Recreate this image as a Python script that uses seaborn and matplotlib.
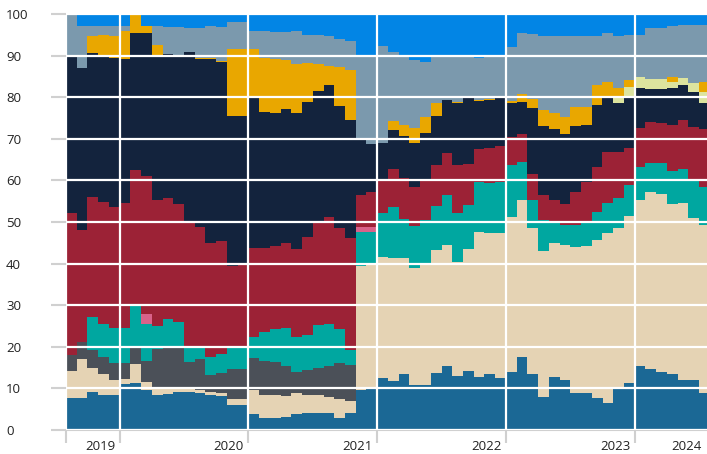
import numpy as np
import pandas as pd
import matplotlib
matplotlib.use("Agg")
import matplotlib.pyplot as plt
import seaborn as sns

# ---------------- data (monthly shares, %) ----------------
months = pd.period_range("2019-08", periods=60, freq="M").astype(str)

steel = [7.6, 7.8, 9.1, 8.5, 8.5, 11.0, 11.4, 9.7, 8.5, 8.7, 9.1, 9.1, 8.8, 8.4, 8.2, 6.0, 6.0, 3.8, 3.0, 2.9,
         3.2, 3.8, 4.0, 4.2, 4.2, 3.0, 4.0, 9.6, 9.8, 12.4, 11.7, 13.5, 10.9, 10.9, 13.8, 15.4, 13.0, 14.1, 12.8, 13.5,
         12.4, 14.0, 17.6, 13.5, 8.0, 12.7, 12.1, 9.0, 8.8, 7.6, 6.4, 10.0, 11.2, 15.4, 14.6, 14.0, 13.5, 11.9, 11.9, 8.8]
beige = [6.7, 9.3, 5.9, 5.0, 3.5, 1.2, 4.5, 1.9, 1.5, 1.3, 1.2, 1.0, 0.8, 0.8, 0.8, 1.4, 1.4, 5.8, 5.4, 5.4,
         5.0, 5.2, 4.4, 4.2, 3.8, 4.4, 3.0, 29.9, 29.9, 29.3, 29.6, 27.8, 28.0, 29.3, 29.5, 29.1, 27.5, 29.3, 34.8, 33.8,
         35.0, 37.1, 37.7, 35.0, 35.1, 32.3, 32.4, 34.9, 35.4, 38.1, 40.9, 38.5, 40.2, 40.0, 42.5, 42.7, 40.8, 42.7, 39.0, 40.5]
slate = [3.7, 4.1, 4.2, 4.0, 4.1, 3.8, 3.7, 4.9, 9.4, 9.9, 9.6, 6.3, 7.4, 4.0, 4.6, 7.2, 7.2, 7.6, 8.3, 8.1,
         7.2, 5.0, 6.0, 6.4, 7.4, 8.6, 8.7, 0, 0, 0, 0, 0, 0, 0, 0, 0, 0, 0, 0, 0,
         0, 0, 0, 0, 0, 0, 0, 0, 0, 0, 0, 0, 0, 0, 0, 0, 0, 0, 0, 0]
teal = [0, 0, 7.9, 8.1, 8.4, 8.6, 10.1, 9.0, 5.7, 6.7, 6.1, 3.4, 3.2, 4.3, 4.6, 5.2, 5.2, 5.2, 6.9, 7.8,
        9.0, 8.3, 8.4, 10.4, 10.2, 8.2, 3.6, 8.2, 8.0, 10.4, 12.3, 9.5, 10.1, 10.3, 10.5, 12.1, 11.7, 10.7, 12.0, 12.0,
        12.3, 12.6, 9.2, 6.9, 7.4, 4.7, 4.8, 5.4, 5.6, 6.8, 7.2, 7.2, 7.5, 7.9, 7.2, 7.4, 8.0, 8.1, 9.2, 9.2]
pink = [0, 0, 0, 0, 0, 0, 0, 2.3, 0, 0, 0, 0, 0, 0, 0, 0, 0, 0, 0, 0,
        0, 0, 0, 0, 0, 0, 0, 1.1, 1.2, 0, 0, 0, 0, 0, 0, 0, 0, 0, 0, 0,
        0, 0, 0, 0, 0, 0, 0, 0, 0, 0, 0, 0, 0, 0, 0, 0, 0, 0, 0, 0]
crimson = [34.1, 26.9, 29.0, 29.3, 29.2, 30.0, 32.8, 33.3, 30.2, 29.1, 28.3, 29.9, 28.5, 27.5, 27.2, 19.7, 19.9, 21.3, 20.1, 20.1,
           20.5, 21.1, 23.7, 24.5, 25.7, 24.3, 26.8, 7.6, 8.4, 7.7, 9.1, 9.7, 9.5, 9.5, 9.9, 10.1, 11.5, 9.8, 7.9, 8.6,
           8.6, 6.7, 6.7, 6.1, 6.0, 5.7, 5.0, 8.0, 9.7, 10.8, 12.4, 11.2, 9.0, 9.2, 9.8, 9.6, 11.0, 11.8, 12.7, 13.8]
navy = [38.1, 38.8, 34.5, 34.7, 35.7, 34.7, 32.9, 34.3, 34.3, 34.6, 35.8, 41.2, 40.6, 44.3, 43.1, 36.1, 35.9, 36.1, 32.8, 31.9,
        32.3, 32.9, 32.4, 31.9, 31.6, 29.3, 28.3, 13.8, 11.4, 9.3, 9.4, 10.2, 10.6, 11.5, 11.8, 12.7, 14.8, 16.0, 11.7, 11.4,
        11.4, 8.3, 7.7, 15.8, 16.6, 16.9, 16.9, 15.8, 13.7, 14.8, 13.1, 11.8, 12.1, 9.6, 7.8, 8.2, 8.8, 8.4, 8.5, 6.4]
lime = [0, 0, 0, 0, 0, 0, 0, 0, 0, 0, 0, 0, 0, 0, 0, 0, 0, 0, 0, 0,
        0, 0, 0, 0, 0, 0, 0, 0, 0, 0, 0, 0, 0, 0, 0, 0, 0, 0, 0, 0,
        0, 0, 0, 0, 0, 0, 0, 0, 0, 0, 0, 1.3, 2.5, 2.8, 2.4, 2.4, 1.6, 1.8, 2.0, 2.6]
gold = [0, 0.2, 4.2, 5.4, 5.4, 6.7, 4.6, 1.6, 2.9, 0, 0, 0, 0.2, 0.2, 0.3, 15.9, 15.9, 11.7, 13.0, 13.0,
        11.7, 11.8, 9.3, 6.5, 4.7, 9.5, 12.1, 0, 0, 0, 2.1, 2.6, 3.4, 3.7, 3.1, 0, 0.3, 0.2, 0.2, 0.2,
        0.2, 0.3, 1.9, 2.2, 3.8, 3.8, 4.0, 4.5, 4.4, 4.8, 3.7, 2.1, 1.6, 0, 0, 0, 1.2, 0, 0, 2.4]
greyblue = [9.8, 9.9, 2.3, 2.1, 2.2, 1.1, 0, 0, 4.6, 6.6, 6.7, 5.7, 7.1, 7.5, 8.0, 6.5, 6.5, 4.3, 6.5, 6.5,
            6.8, 7.9, 6.7, 6.9, 7.2, 6.7, 7.1, 19.5, 21.3, 23.2, 16.7, 16.4, 16.4, 13.3, 11.4, 10.6, 11.2, 9.6, 10.0, 10.1,
            9.8, 13.1, 14.6, 15.6, 17.8, 18.6, 19.4, 17.1, 17.0, 11.8, 11.7, 12.6, 10.8, 10.0, 12.3, 12.3, 12.1, 12.7, 14.1, 13.7]
azure = [0, 3.0, 2.9, 2.9, 3.0, 2.9, 0, 3.0, 2.9, 3.1, 3.2, 3.4, 3.4, 3.0, 3.2, 2.0, 2.0, 4.2, 4.0, 4.3,
         4.3, 4.0, 5.1, 5.0, 5.2, 6.0, 6.4, 10.3, 10.0, 7.7, 9.1, 10.3, 11.1, 11.5, 10.0, 10.0, 10.0, 10.3, 10.6, 10.4,
         10.3, 7.9, 4.6, 4.9, 5.3, 5.3, 5.4, 5.3, 5.4, 5.3, 4.6, 5.3, 5.1, 5.1, 3.4, 3.4, 3.0, 2.6, 2.6, 2.6]

year_labels = ["2019", "2020", "2021", "2022", "2023", "2024"]

# ---------------- styling ----------------
order = ["steel", "beige", "slate", "teal", "pink", "crimson", "navy", "lime", "gold", "greyblue", "azure"]
colors = {
    "steel": "#1b6895", "beige": "#e5d3b4", "slate": "#4b5058", "teal": "#00a7a0",
    "pink": "#d9628a", "crimson": "#9c2236", "navy": "#13233d", "lime": "#dde49e",
    "gold": "#e9a700", "greyblue": "#7b99ad", "azure": "#0285e5",
}

df = pd.DataFrame({
    "steel": steel, "beige": beige, "slate": slate, "teal": teal, "pink": pink,
    "crimson": crimson, "navy": navy, "lime": lime, "gold": gold,
    "greyblue": greyblue, "azure": azure,
}, index=months)
shares = df.div(df.sum(axis=1), axis=0) * 100
cum = shares.cumsum(axis=1)

sns.set_theme(style="white")
plt.rcParams["font.family"] = ["Open Sans", "DejaVu Sans"]

W, H = 707, 454
fig = plt.figure(figsize=(W / 100, H / 100), dpi=100)
ax = fig.add_axes([66 / W, 24 / H, 641 / W, 416 / H])

n = len(months)
xpos = np.arange(n)
for name in reversed(order):
    sns.barplot(x=xpos, y=cum[name].values, color=colors[name], width=1.0,
                saturation=1, errorbar=None, linewidth=0,
                antialiased=False, ax=ax)

ax.set_xlim(-0.5, -0.5 + 641 / 10.73)
ax.set_ylim(0, 100)

bounds = [-0.5, 4.5, 16.5, 28.5, 40.5, 52.5]
ax.set_xticks(bounds)
ax.set_xticklabels([""] * len(bounds))
ax.set_yticks(range(0, 101, 10))
ax.set_yticklabels([str(v) for v in range(0, 101, 10)], fontsize=9.5, color="#222222")
for lab in ax.get_yticklabels():
    lab.set_horizontalalignment("left")

ax.set_axisbelow(False)
ax.grid(True, axis="both", color="white", linewidth=1.6)
ax.tick_params(axis="y", length=10.8, width=1.5, color="#d0d0d0", pad=32.4, left=True)
ax.tick_params(axis="x", length=9.5, width=1.5, color="#d0d0d0", bottom=True)
for s in ["top", "right", "left"]:
    ax.spines[s].set_visible(False)
ax.spines["bottom"].set_color("#d0d0d0")
ax.spines["bottom"].set_linewidth(1.5)
ax.set_xlabel("")
ax.set_ylabel("")

label_x = bounds[1:] + [ax.get_xlim()[1] - 0.05]
for lx, txt in zip(label_x, year_labels):
    ax.text(lx - 0.42, -0.024, txt, transform=ax.get_xaxis_transform(),
            ha="right", va="top", fontsize=9.5, color="#222222")

fig.savefig("out.png", dpi=100)
